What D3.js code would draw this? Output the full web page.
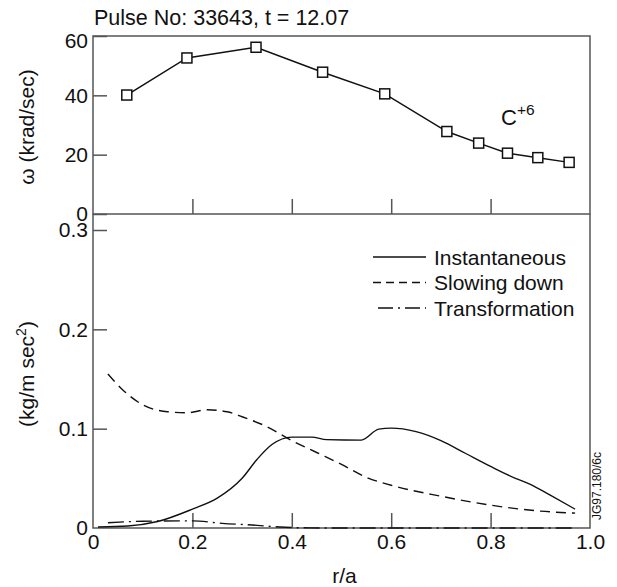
<!DOCTYPE html>
<html>
<head>
<meta charset="utf-8">
<script src="https://cdn.jsdelivr.net/npm/d3@7"></script>
<style>
  body { margin: 0; background: #fff; }
  svg text { font-family: "Liberation Sans", Arial, sans-serif; fill: #111; }
</style>
</head>
<body>
<div id="chart"></div>
<script>
// top panel: C+6 angular velocity (krad/sec)
const omegaR = [0.068, 0.189, 0.328, 0.462, 0.587, 0.712, 0.776, 0.834, 0.895, 0.958];
const omegaVal = [40.1, 52.6, 56.2, 47.8, 40.5, 27.8, 23.9, 20.5, 19.0, 17.4];

// bottom panel: torque density curves (kg/m sec^2)
const instantaneous = [
    [0.01, 0.001], [0.07, 0.002], [0.13, 0.0065], [0.2, 0.019], [0.25, 0.03],
    [0.3, 0.05], [0.33, 0.069], [0.36, 0.084], [0.4, 0.0915], [0.44, 0.0915],
    [0.47, 0.089], [0.54, 0.0885], [0.575, 0.0995], [0.6, 0.1005], [0.65, 0.097],
    [0.7, 0.088], [0.75, 0.075], [0.8, 0.062], [0.85, 0.05], [0.88, 0.044],
    [0.92, 0.033], [0.97, 0.019]
];
const slowingDown = [
    [0.03, 0.155], [0.06, 0.139], [0.1, 0.124], [0.15, 0.117], [0.19, 0.116],
    [0.23, 0.119], [0.27, 0.117], [0.3, 0.112], [0.35, 0.102], [0.4, 0.088],
    [0.45, 0.076], [0.5, 0.064], [0.55, 0.051], [0.6, 0.043], [0.7, 0.032],
    [0.8, 0.023], [0.9, 0.017], [0.97, 0.015]
];
const transformation = [
    [0.03, 0.0053], [0.1, 0.0068], [0.2, 0.0072], [0.26, 0.0047], [0.32, 0.003],
    [0.376, 0.001], [0.42, 0.0002], [0.5, 0], [0.97, 0]
];

const xTicks = [0, 0.2, 0.4, 0.6, 0.8, 1.0];
const omegaTicks = [0, 20, 40, 60];
const torqueTicks = [0, 0.1, 0.2, 0.3];

const width = 617, height = 587;
const left = 93, right = 590;
const topY = 36, midY = 214, botY = 528;
const axisColor = "#555";

const svg = d3.select("#chart").append("svg")
    .attr("width", width)
    .attr("height", height);

const x = d3.scaleLinear().domain([0, 1]).range([left, right]);
const yTop = d3.scaleLinear().domain([0, 60]).range([midY, topY]);
const yBot = d3.scaleLinear().domain([0, 0.3]).range([botY, 230]);

// frames
svg.append("rect")
    .attr("x", left).attr("y", topY)
    .attr("width", right - left).attr("height", midY - topY)
    .attr("fill", "none").attr("stroke", axisColor).attr("stroke-width", 1.5);
svg.append("path")
    .attr("d", `M${left},${midY}V${botY}H${right}V${midY}`)
    .attr("fill", "none").attr("stroke", axisColor).attr("stroke-width", 1.5);

function styleAxis(g) {
    g.select(".domain").remove();
    g.selectAll(".tick line").attr("stroke", axisColor).attr("stroke-width", 1.5);
    g.selectAll(".tick text")
        .style("font-size", "21px")
        .style("font-family", "'Liberation Sans', Arial, sans-serif")
        .attr("fill", "#111");
}

// top y axis
svg.append("g")
    .attr("transform", `translate(${left},0)`)
    .call(d3.axisLeft(yTop).tickValues(omegaTicks).tickSize(-14).tickPadding(5).tickFormat(d3.format("d")))
    .call(styleAxis)
    .call(g => g.selectAll(".tick").filter(d => d === 60).select("text").attr("dy", "0.55em"));

// top x ticks (no labels)
svg.append("g")
    .attr("transform", `translate(0,${midY})`)
    .call(d3.axisBottom(x).tickValues([0.2, 0.4, 0.6, 0.8]).tickSize(-15).tickFormat(""))
    .call(styleAxis);

// bottom y axis
svg.append("g")
    .attr("transform", `translate(${left},0)`)
    .call(d3.axisLeft(yBot).tickValues(torqueTicks).tickSize(-14).tickPadding(5).tickFormat(d => d === 0 ? "0" : d3.format(".1f")(d)))
    .call(styleAxis)
    .call(g => g.selectAll(".tick").filter(d => d === 0).select("line").remove());

// bottom x axis
svg.append("g")
    .attr("transform", `translate(0,${botY})`)
    .call(d3.axisBottom(x).tickValues(xTicks).tickSize(-15).tickPadding(6)
        .tickFormat(d => d === 0 ? "0" : d3.format(".1f")(d)))
    .call(styleAxis)
    .call(g => g.selectAll(".tick").filter(d => d === 0 || d === 1).select("line").remove());

// top panel line + squares
const omegaPts = omegaR.map((r, i) => [r, omegaVal[i]]);
svg.append("path")
    .datum(omegaPts)
    .attr("fill", "none").attr("stroke", "#111").attr("stroke-width", 1.5)
    .attr("d", d3.line().x(d => x(d[0])).y(d => yTop(d[1])));
svg.append("g").selectAll("rect")
    .data(omegaPts)
    .enter()
    .append("rect")
    .attr("x", d => x(d[0]) - 5).attr("y", d => yTop(d[1]) - 5)
    .attr("width", 10).attr("height", 10)
    .attr("fill", "#fff").attr("stroke", "#111").attr("stroke-width", 1.5);

// bottom panel curves
const curve = d3.line().x(d => x(d[0])).y(d => yBot(d[1])).curve(d3.curveMonotoneX);
const series = [
    { data: instantaneous, dash: null, name: "Instantaneous" },
    { data: slowingDown, dash: "10,6", name: "Slowing down" },
    { data: transformation, dash: "16,5,2,5", name: "Transformation" }
];
series.forEach(s => {
    svg.append("path")
        .datum(s.data)
        .attr("fill", "none").attr("stroke", "#111").attr("stroke-width", 1.4)
        .attr("stroke-dasharray", s.dash)
        .attr("d", curve);
});

// legend
const legend = svg.append("g");
series.forEach((s, i) => {
    const ly = 257 + i * 25.5;
    legend.append("line")
        .attr("x1", i === 2 ? 378 : 373).attr("x2", 426)
        .attr("y1", ly).attr("y2", ly)
        .attr("stroke", "#111").attr("stroke-width", 1.4)
        .attr("stroke-dasharray", i === 1 ? "8,5" : i === 2 ? "15,5,2,5" : null);
    legend.append("text")
        .attr("x", 434).attr("y", ly + 7.5)
        .style("font-size", "21px")
        .text(s.name);
});

// annotations
svg.append("text")
    .attr("x", 94).attr("y", 25)
    .style("font-size", "21.5px")
    .text("Pulse No: 33643, t = 12.07");

const cLabel = svg.append("text")
    .attr("x", 501).attr("y", 125)
    .style("font-size", "22px");
cLabel.append("tspan").text("C");
cLabel.append("tspan").attr("dy", -10).style("font-size", "15.5px").text("+6");

svg.append("text")
    .attr("transform", `translate(34,${(topY + midY) / 2 + 2}) rotate(-90)`)
    .attr("text-anchor", "middle")
    .style("font-size", "21px")
    .text("ω (krad/sec)");

const yl = svg.append("text")
    .attr("transform", `translate(34,${(midY + botY) / 2 + 3}) rotate(-90)`)
    .attr("text-anchor", "middle")
    .style("font-size", "21px");
yl.append("tspan").text("(kg/m sec");
yl.append("tspan").attr("dy", -8).style("font-size", "14px").text("2");
yl.append("tspan").attr("dy", 8).text(")");

svg.append("text")
    .attr("x", (left + right) / 2 + 3).attr("y", 583)
    .attr("text-anchor", "middle")
    .style("font-size", "21px")
    .text("r/a");

svg.append("text")
    .attr("transform", `translate(601,486) rotate(-90)`)
    .attr("text-anchor", "middle")
    .style("font-size", "12px")
    .text("JG97.180/6c");
</script>
</body>
</html>
